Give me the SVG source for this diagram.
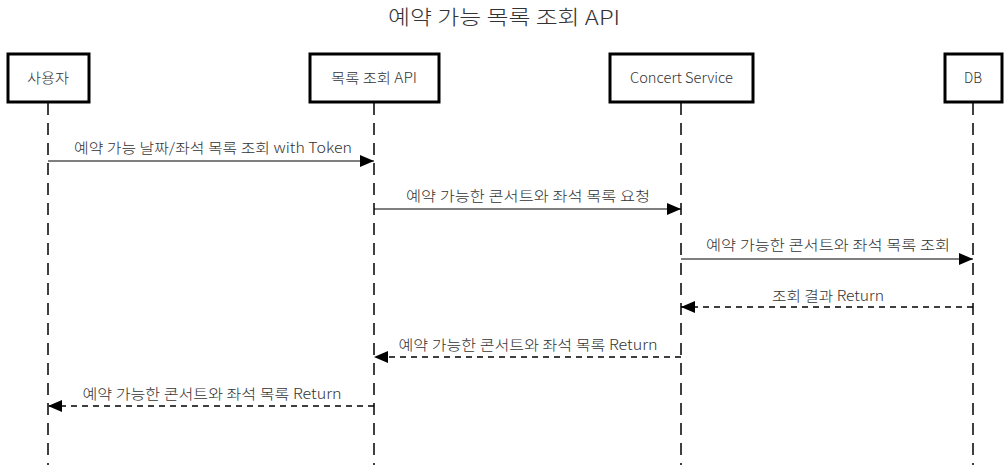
<svg xmlns="http://www.w3.org/2000/svg" width="1006" height="465" viewBox="0 0 1006 465">
<style>
text{font-family:"Noto Sans CJK KR","Noto Sans",sans-serif;fill:#333;font-weight:300}
.box{fill:#fff;stroke:#000;stroke-width:3}
.lbl{font-size:14px;text-anchor:middle}
.life{stroke:#000;stroke-width:1.5;stroke-dasharray:12,8;fill:none}
.msg{stroke:#000;stroke-width:1.2;fill:none}
.ret{stroke:#000;stroke-width:1.4;fill:none;stroke-dasharray:6,5}
.ml{font-size:14px;text-anchor:middle}
</style>
<defs>
<marker id="ah" markerWidth="14" markerHeight="12" refX="14" refY="6" orient="auto" markerUnits="userSpaceOnUse">
<path d="M0,0 L14,6 L0,12 z" fill="#000"/>
</marker>
</defs>
<rect width="1006" height="465" fill="#fff"/>
<text x="504" y="25" font-size="20" text-anchor="middle" textLength="232" lengthAdjust="spacingAndGlyphs">예약 가능 목록 조회 API</text>
<g id="lifelines">
<line class="life" x1="48" y1="103" x2="48" y2="465"/>
<line class="life" x1="374" y1="103" x2="374" y2="465"/>
<line class="life" x1="681" y1="103" x2="681" y2="465"/>
<line class="life" x1="973" y1="103" x2="973" y2="465"/>
</g>
<g id="user"><rect class="box" x="8" y="54" width="81" height="48"/><text class="lbl" x="48" y="83" textLength="42" lengthAdjust="spacingAndGlyphs">사용자</text></g>
<g id="api"><rect class="box" x="310" y="54" width="129" height="48"/><text class="lbl" x="374" y="83" textLength="86" lengthAdjust="spacingAndGlyphs">목록 조회 API</text></g>
<g id="service"><rect class="box" x="610" y="54" width="143" height="48"/><text class="lbl" x="681.5" y="83" textLength="103" lengthAdjust="spacingAndGlyphs">Concert Service</text></g>
<g id="db"><rect class="box" x="945" y="54" width="57" height="48"/><text class="lbl" x="973" y="83" textLength="18" lengthAdjust="spacingAndGlyphs">DB</text></g>
<g id="connectors">
<line class="msg" x1="48" y1="161" x2="374" y2="161" marker-end="url(#ah)"/>
<text class="ml" x="213" y="153" textLength="278" lengthAdjust="spacingAndGlyphs">예약 가능 날짜/좌석 목록 조회 with Token</text>
<line class="msg" x1="374" y1="209" x2="681" y2="209" marker-end="url(#ah)"/>
<text class="ml" x="528" y="201" textLength="244" lengthAdjust="spacingAndGlyphs">예약 가능한 콘서트와 좌석 목록 요청</text>
<line class="msg" x1="681" y1="259" x2="973" y2="259" marker-end="url(#ah)"/>
<text class="ml" x="828" y="250" textLength="244" lengthAdjust="spacingAndGlyphs">예약 가능한 콘서트와 좌석 목록 조회</text>
<line class="ret" x1="973" y1="307" x2="681" y2="307" marker-end="url(#ah)"/>
<text class="ml" x="828" y="301" textLength="112" lengthAdjust="spacingAndGlyphs">조회 결과 Return</text>
<line class="ret" x1="681" y1="357" x2="374" y2="357" marker-end="url(#ah)"/>
<text class="ml" x="528" y="350" textLength="259" lengthAdjust="spacingAndGlyphs">예약 가능한 콘서트와 좌석 목록 Return</text>
<line class="ret" x1="374" y1="406" x2="48" y2="406" marker-end="url(#ah)"/>
<text class="ml" x="212" y="399" textLength="259" lengthAdjust="spacingAndGlyphs">예약 가능한 콘서트와 좌석 목록 Return</text>
</g>
</svg>
